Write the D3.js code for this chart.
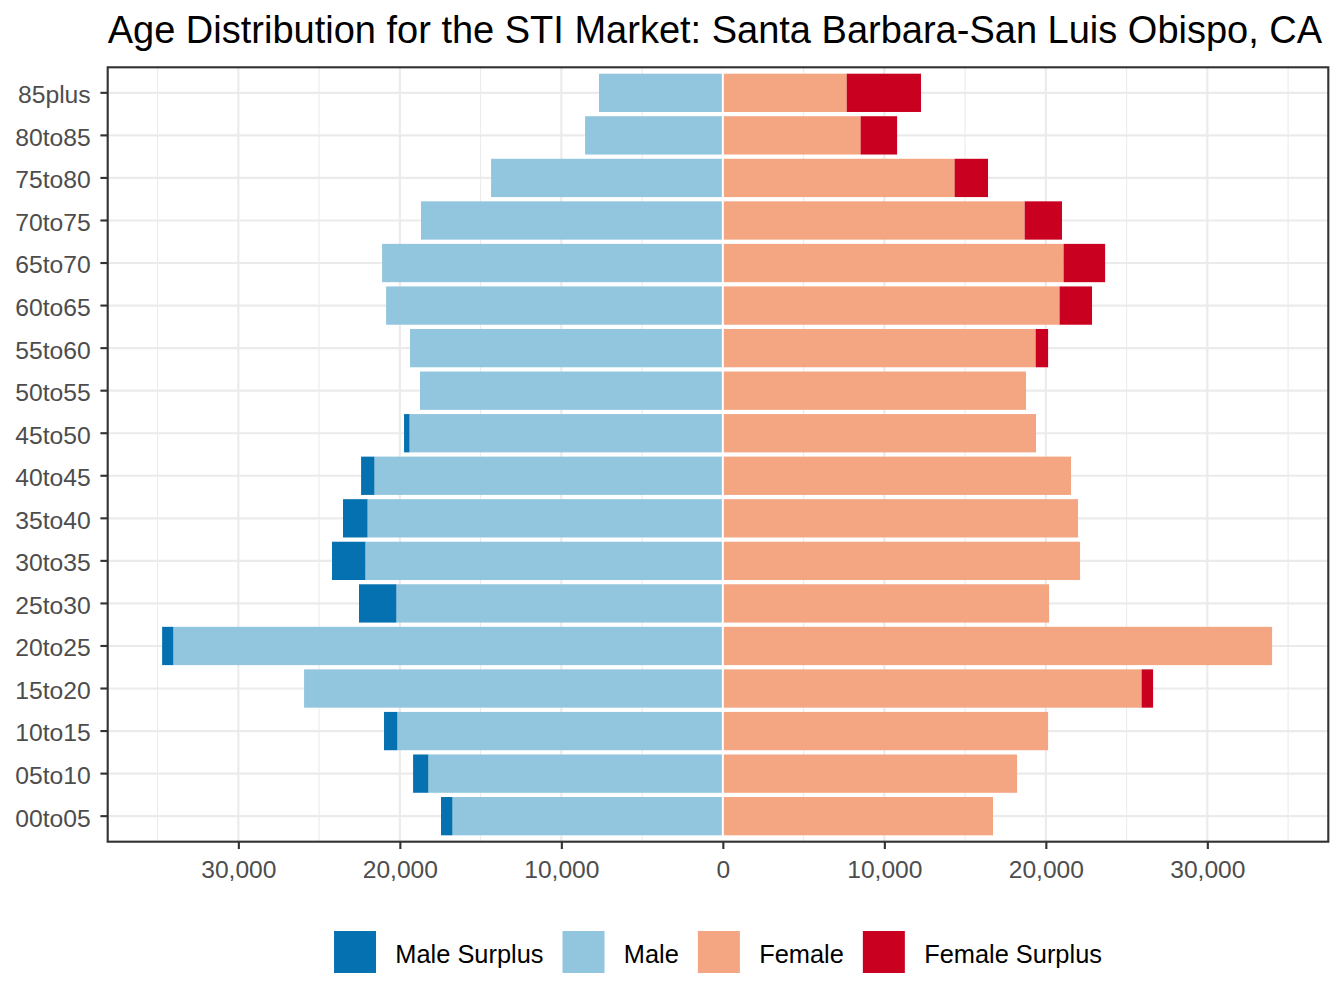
<!DOCTYPE html>
<html>
<head>
<meta charset="utf-8">
<script src="https://cdn.jsdelivr.net/npm/d3@7"></script>
<style>
  html, body { margin: 0; padding: 0; background: #fff; }
  svg { display: block; font-family: "Liberation Sans", Arial, sans-serif; }
</style>
</head>
<body>
<svg id="chart" width="1344" height="1008"></svg>
<script>
// ---- data ----
const ageGroups = ["85plus","80to85","75to80","70to75","65to70","60to65","55to60","50to55","45to50",
                   "40to45","35to40","30to35","25to30","20to25","15to20","10to15","05to10","00to05"];
const maleTotal   = [7670, 8530, 14350, 18690, 21100, 20850, 19370, 18750, 19740,
                     22400, 23520, 24200, 22530, 34720, 25930, 20980, 19180, 17450];
const femaleTotal = [12270, 10790, 16420, 21000, 23670, 22860, 20140, 18760, 19390,
                     21560, 21990, 22120, 20200, 34010, 26640, 20140, 18220, 16730];
const xTicks = [-30000, -20000, -10000, 0, 10000, 20000, 30000];
const xMinorTicks = [-35000, -25000, -15000, -5000, 5000, 15000, 25000, 35000];
const seriesNames = ["Male Surplus", "Male", "Female", "Female Surplus"];
const seriesColors = ["#0571b0", "#92c5de", "#f4a582", "#ca0020"];
const titleText = "Age Distribution for the STI Market: Santa Barbara-San Luis Obispo, CA";

// ---- layout ----
const svg = d3.select("#chart");
const P = { left: 107.7, right: 1328.3, top: 67.3, bottom: 841.7 };

const x = d3.scaleLinear().domain([-38090, 37490]).range([P.left, P.right]);
const y = d3.scaleBand().domain(ageGroups).range([P.top, P.bottom])
  .paddingInner(0.1).paddingOuter(0.15);

// rows with stacked segments
const rows = ageGroups.map((g, i) => {
  const m = maleTotal[i], f = femaleTotal[i], c = Math.min(m, f);
  return { g, segs: [
    { s: 0, x0: -m, x1: -c },
    { s: 1, x0: -c, x1: 0 },
    { s: 2, x0: 0, x1: c },
    { s: 3, x0: c, x1: f }
  ]};
});

// panel background
svg.append("rect").attr("x", P.left).attr("y", P.top)
  .attr("width", P.right - P.left).attr("height", P.bottom - P.top).attr("fill", "#fff");

// grid
const grid = svg.append("g");
grid.selectAll(".minor").data(xMinorTicks).join("line")
  .attr("x1", d => x(d)).attr("x2", d => x(d)).attr("y1", P.top).attr("y2", P.bottom)
  .attr("stroke", "#ebebeb").attr("stroke-width", 1.07);
grid.selectAll(".major").data(xTicks).join("line")
  .attr("x1", d => x(d)).attr("x2", d => x(d)).attr("y1", P.top).attr("y2", P.bottom)
  .attr("stroke", "#ebebeb").attr("stroke-width", 2.13);
grid.selectAll(".hmajor").data(ageGroups).join("line")
  .attr("x1", P.left).attr("x2", P.right)
  .attr("y1", d => y(d) + y.bandwidth() / 2).attr("y2", d => y(d) + y.bandwidth() / 2)
  .attr("stroke", "#ebebeb").attr("stroke-width", 2.13);

// bars
const bars = svg.append("g");
rows.forEach(r => {
  bars.selectAll(null).data(r.segs.filter(s => s.x1 > s.x0)).join("rect")
    .attr("x", s => x(s.x0)).attr("width", s => x(s.x1) - x(s.x0))
    .attr("y", y(r.g)).attr("height", y.bandwidth())
    .attr("fill", s => seriesColors[s.s]);
});
// white separator at zero
svg.append("line").attr("x1", x(0)).attr("x2", x(0))
  .attr("y1", P.top).attr("y2", P.bottom).attr("stroke", "#fff").attr("stroke-width", 2);

// panel border
svg.append("rect").attr("x", P.left).attr("y", P.top)
  .attr("width", P.right - P.left).attr("height", P.bottom - P.top)
  .attr("fill", "none").attr("stroke", "#333333").attr("stroke-width", 2.13);

// x axis
const fmt = d3.format(",");
const xAxis = d3.axisBottom(x).tickValues(xTicks).tickSize(7.3).tickPadding(11.7)
  .tickFormat(d => fmt(Math.abs(d)));
const gx = svg.append("g").attr("transform", `translate(0,${P.bottom})`).call(xAxis);
gx.select(".domain").remove();
gx.selectAll(".tick line").attr("stroke", "#333333").attr("stroke-width", 2.13);
gx.selectAll(".tick text").attr("fill", "#4d4d4d").attr("font-size", 24.6)
  .attr("font-family", "Liberation Sans, Arial, sans-serif");

// y axis
const yAxis = d3.axisLeft(y).tickSize(7.3).tickPadding(9.7);
const gy = svg.append("g").attr("transform", `translate(${P.left},0)`).call(yAxis);
gy.select(".domain").remove();
gy.selectAll(".tick line").attr("stroke", "#333333").attr("stroke-width", 2.13);
gy.selectAll(".tick text").attr("fill", "#4d4d4d").attr("font-size", 24.7)
  .attr("dy", "0.42em")
  .attr("font-family", "Liberation Sans, Arial, sans-serif");

// title
svg.append("text").attr("x", P.left).attr("y", 43.3)
  .attr("font-size", 38).attr("fill", "#000").text(titleText);

// legend
const keyW = 42, keyH = 42, gapText = 19.3, gapAfter = 19, legY = 931;
const leg = svg.append("g");
const items = seriesNames.map((n, i) => {
  const t = leg.append("text").attr("font-size", 25.4).attr("fill", "#000").text(n);
  return { n, i, t, w: t.node().getComputedTextLength() };
});
const totalW = items.reduce((a, it, k) => a + keyW + gapText + it.w + (k < items.length - 1 ? gapAfter : 0), 0);
let cx = (P.left + P.right) / 2 - totalW / 2;
items.forEach(it => {
  leg.append("rect").attr("x", cx).attr("y", legY).attr("width", keyW).attr("height", keyH)
    .attr("fill", seriesColors[it.i]);
  it.t.attr("x", cx + keyW + gapText).attr("y", 963.3);
  cx += keyW + gapText + it.w + gapAfter;
});
</script>
</body>
</html>
